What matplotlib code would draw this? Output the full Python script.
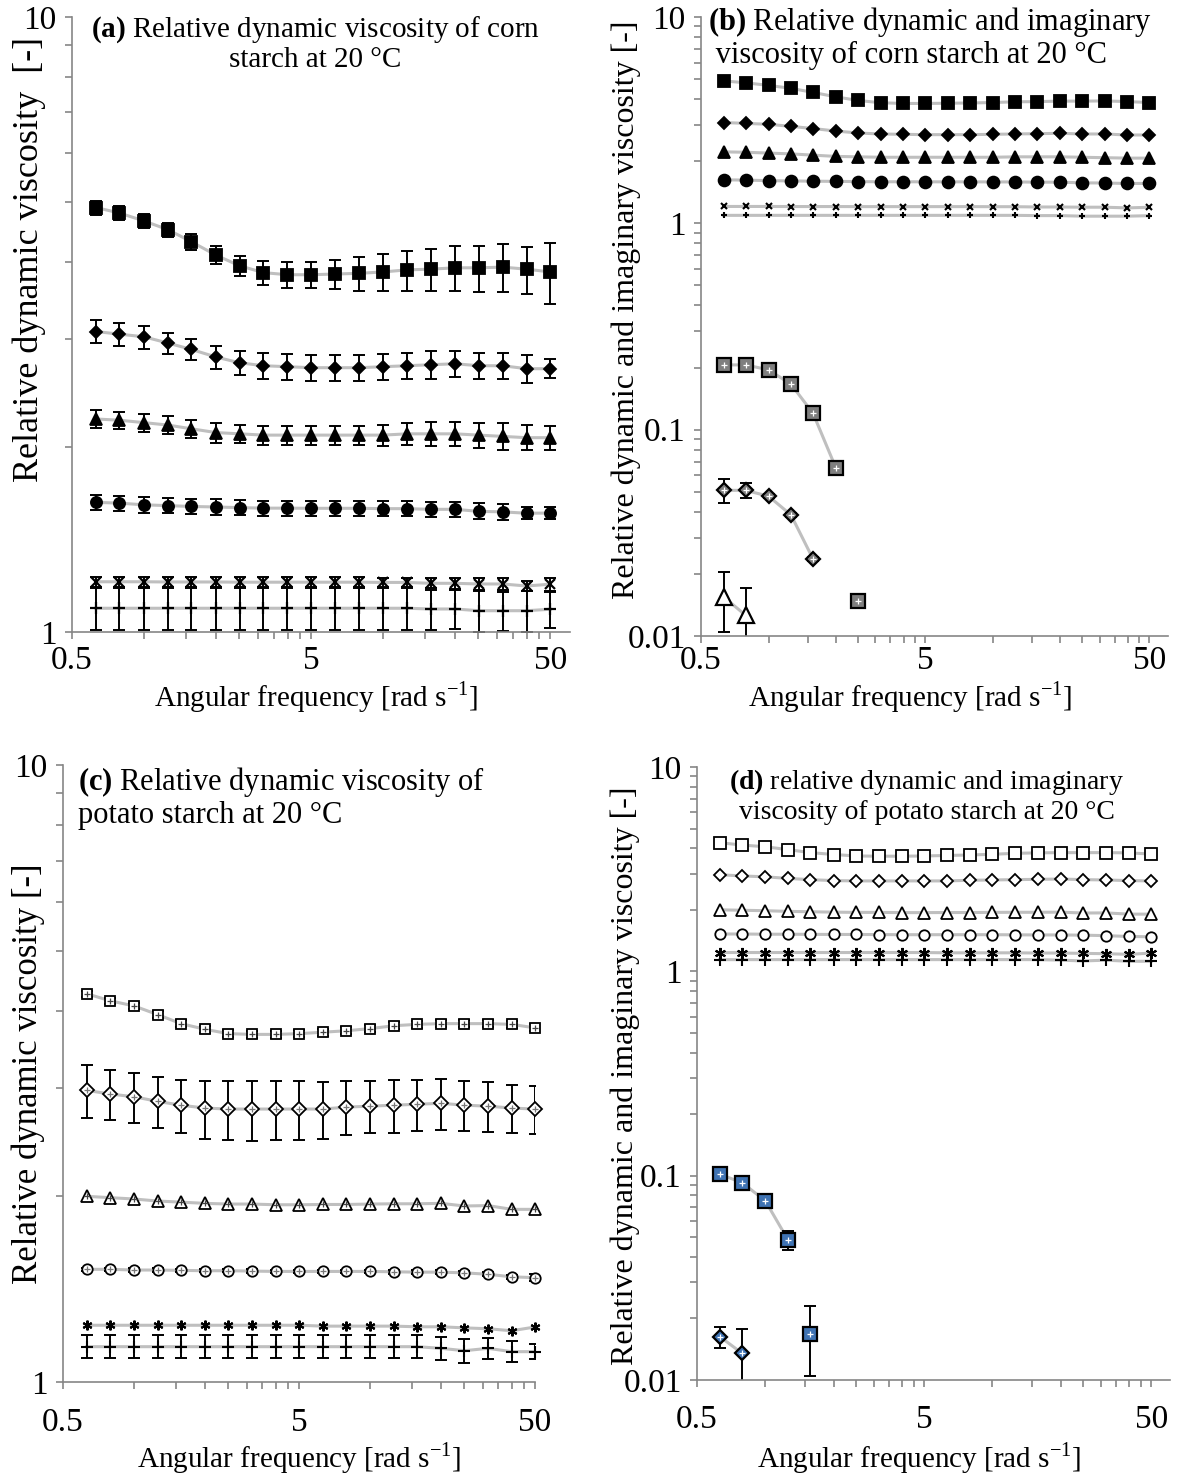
import matplotlib
matplotlib.use('Agg')
import matplotlib.pyplot as plt
from matplotlib.ticker import FixedLocator, LogLocator, NullFormatter, FuncFormatter

plt.rcParams['font.family'] = ['Liberation Serif', 'DejaVu Serif']
plt.rcParams['mathtext.fontset'] = 'custom'
plt.rcParams['mathtext.rm'] = 'Liberation Serif'
plt.rcParams['mathtext.bf'] = 'Liberation Serif:bold'
plt.rcParams['font.size'] = 20

GREY_LINE = '#bfbfbf'
AXIS_GREY = '#868686'

# angular frequency [rad/s], 10 points per decade
freq = [0.63, 0.79, 1.0, 1.26, 1.58, 2.0, 2.51, 3.16, 3.98, 5.01,
        6.31, 7.94, 10.0, 12.6, 15.8, 20.0, 25.1, 31.6, 39.8, 50.0]

# corn starch - relative dynamic viscosity (panels a and b)
corn_sq = [4.90, 4.80, 4.66, 4.51, 4.31, 4.10, 3.94, 3.84, 3.81, 3.81,
           3.82, 3.83, 3.85, 3.88, 3.89, 3.91, 3.91, 3.92, 3.89, 3.85]
corn_sq_err = [0.13, 0.13, 0.13, 0.12, 0.125, 0.135, 0.15, 0.17, 0.18, 0.19,
               0.21, 0.24, 0.26, 0.29, 0.31, 0.33, 0.34, 0.35, 0.34, 0.44]
corn_di = [3.08, 3.05, 3.02, 2.95, 2.88, 2.80, 2.74, 2.71, 2.70, 2.69,
           2.69, 2.69, 2.70, 2.71, 2.72, 2.73, 2.71, 2.71, 2.68, 2.68]
corn_di_err = [0.13, 0.13, 0.13, 0.115, 0.115, 0.12, 0.12, 0.13, 0.13, 0.13,
               0.13, 0.13, 0.135, 0.135, 0.14, 0.135, 0.135, 0.13, 0.14, 0.095]
corn_tr = [2.22, 2.21, 2.19, 2.17, 2.14, 2.11, 2.10, 2.09, 2.09, 2.09,
           2.09, 2.09, 2.09, 2.10, 2.10, 2.10, 2.09, 2.08, 2.07, 2.07]
corn_tr_err = [0.073, 0.073, 0.072, 0.072, 0.073, 0.078, 0.073, 0.075, 0.073, 0.076,
               0.076, 0.076, 0.08, 0.084, 0.092, 0.097, 0.098, 0.104, 0.097, 0.094]
corn_ci = [1.625, 1.62, 1.61, 1.605, 1.60, 1.597, 1.593, 1.59, 1.59, 1.589,
           1.589, 1.589, 1.587, 1.587, 1.583, 1.583, 1.571, 1.568, 1.56, 1.561]
corn_ci_err = [0.048, 0.047, 0.046, 0.045, 0.046, 0.047, 0.045, 0.044, 0.044, 0.044,
               0.044, 0.044, 0.044, 0.044, 0.044, 0.046, 0.047, 0.047, 0.034, 0.037]
corn_x = [1.207, 1.207, 1.207, 1.206, 1.206, 1.206, 1.205, 1.205, 1.205, 1.205,
          1.205, 1.205, 1.204, 1.204, 1.200, 1.200, 1.197, 1.197, 1.188, 1.196]
corn_x_err = [0.022, 0.022, 0.022, 0.022, 0.022, 0.022, 0.022, 0.022, 0.022, 0.022,
              0.022, 0.022, 0.022, 0.022, 0.023, 0.024, 0.025, 0.025, 0.024, 0.03]
corn_plus = [1.093, 1.093, 1.093, 1.093, 1.093, 1.093, 1.093, 1.093, 1.093, 1.093,
             1.093, 1.093, 1.093, 1.093, 1.090, 1.090, 1.083, 1.083, 1.083, 1.089]
corn_plus_err = [0.085, 0.085, 0.085, 0.085, 0.085, 0.085, 0.085, 0.085, 0.085, 0.085,
                 0.085, 0.085, 0.085, 0.085, 0.082, 0.08, 0.082, 0.08, 0.082, 0.073]

# corn starch - relative imaginary viscosity (panel b)
corn_im_sq = [0.206, 0.206, 0.195, 0.166, 0.120, 0.065, 0.0147]
corn_im_di = [0.0508, 0.0508, 0.0476, 0.0386, 0.0236]
corn_im_di_err = [0.0066, 0.0043, 0.001, 0.0008, 0.0005]
corn_im_tr = [0.0155, 0.0126]
corn_im_tr_err = [0.005, 0.0045]

# potato starch - relative dynamic viscosity (panels c and d)
pot_sq = [4.26, 4.15, 4.07, 3.94, 3.81, 3.73, 3.67, 3.66, 3.66, 3.67,
          3.69, 3.71, 3.74, 3.78, 3.80, 3.81, 3.81, 3.81, 3.80, 3.75]
pot_sq_err = [0.05, 0.05, 0.05, 0.05, 0.05, 0.05, 0.05, 0.05, 0.05, 0.05,
              0.05, 0.05, 0.05, 0.05, 0.05, 0.05, 0.05, 0.05, 0.05, 0.05]
pot_di = [2.97, 2.93, 2.90, 2.85, 2.81, 2.78, 2.77, 2.77, 2.77, 2.77,
          2.77, 2.79, 2.80, 2.81, 2.82, 2.83, 2.81, 2.80, 2.78, 2.77]
pot_di_err = [0.29, 0.27, 0.27, 0.27, 0.28, 0.30, 0.30, 0.31, 0.30, 0.30,
              0.29, 0.28, 0.27, 0.28, 0.27, 0.27, 0.26, 0.26, 0.25, 0.25]
pot_tr = [2.00, 1.99, 1.98, 1.965, 1.957, 1.948, 1.943, 1.943, 1.938, 1.938,
          1.94, 1.94, 1.943, 1.945, 1.945, 1.948, 1.929, 1.932, 1.905, 1.905]
pot_ci = [1.523, 1.523, 1.519, 1.519, 1.517, 1.515, 1.515, 1.513, 1.511, 1.511,
          1.511, 1.511, 1.511, 1.509, 1.507, 1.507, 1.503, 1.495, 1.481, 1.476]
pot_ci_err = [0.01, 0.01, 0.01, 0.01, 0.01, 0.01, 0.01, 0.01, 0.01, 0.01,
              0.01, 0.01, 0.01, 0.01, 0.01, 0.01, 0.012, 0.012, 0.012, 0.02]
pot_ast = [1.236, 1.236, 1.236, 1.236, 1.236, 1.236, 1.236, 1.236, 1.236, 1.236,
           1.232, 1.232, 1.232, 1.232, 1.229, 1.229, 1.224, 1.220, 1.211, 1.228]
pot_plus = [1.141, 1.141, 1.141, 1.141, 1.141, 1.141, 1.141, 1.141, 1.141, 1.141,
            1.141, 1.141, 1.141, 1.141, 1.141, 1.134, 1.124, 1.134, 1.120, 1.120]
pot_plus_err = [0.049, 0.049, 0.049, 0.049, 0.049, 0.049, 0.049, 0.049, 0.049, 0.049,
                0.049, 0.049, 0.049, 0.049, 0.049, 0.049, 0.05, 0.046, 0.044, 0.031]

# potato starch - relative imaginary viscosity (panel d)
pot_im_sq = [0.1016, 0.0924, 0.0752, 0.0483, 0.0167]
pot_im_sq_err = [0.002, 0.002, 0.002, 0.005, 0.0063]
pot_im_di = [0.0163, 0.0135]
pot_im_di_err = [0.0019, 0.0042]

ASTERISK = (6, 2, 0)


def style_axis(ax, ymin, xmax, xpad):
    ax.set_xscale('log')
    ax.set_yscale('log')
    ax.set_xlim(0.5, xmax)
    ax.set_ylim(ymin, 10)
    for s in ['top', 'right']:
        ax.spines[s].set_visible(False)
    for s in ['left', 'bottom']:
        ax.spines[s].set_color(AXIS_GREY)
        ax.spines[s].set_linewidth(1.2)
    ax.xaxis.set_major_locator(FixedLocator([0.5, 5, 50]))
    ax.xaxis.set_major_formatter(FuncFormatter(lambda v, p: '%g' % v))
    ax.xaxis.set_minor_locator(FixedLocator([0.5 * k * 10 ** d for d in (0, 1) for k in range(2, 10)]))
    ax.xaxis.set_minor_formatter(NullFormatter())
    ax.yaxis.set_major_locator(LogLocator(base=10))
    ax.yaxis.set_major_formatter(FuncFormatter(lambda v, p: '%g' % v))
    ax.yaxis.set_minor_locator(LogLocator(base=10, subs=range(2, 10)))
    ax.yaxis.set_minor_formatter(NullFormatter())
    ax.tick_params(which='both', direction='out', length=5, width=1.2, color=AXIS_GREY, labelsize=24)
    ax.tick_params(axis='x', which='both', pad=xpad)
    ax.tick_params(axis='y', which='both', pad=6)


def series(ax, y, marker, ms, face='black', err=None, inner=None, inner_ms=4,
           inner_color='white', n_line=None, mew=1.3):
    xs = freq[:len(y)]
    n = len(y) if n_line is None else n_line
    if n > 1:
        ax.plot(xs[:n], y[:n], color=GREY_LINE, lw=2.2, zorder=1)
    if err is not None:
        ax.errorbar(xs, y, yerr=err, fmt='none', ecolor='black', elinewidth=1.4,
                    capsize=4.5, capthick=1.4, zorder=2)
    ax.plot(xs, y, ls='none', marker=marker, ms=ms, mfc=face, mec='black', mew=mew,
            zorder=3, clip_on=False)
    if inner:
        ax.plot(xs, y, ls='none', marker=inner, ms=inner_ms, mec=inner_color, mew=0.9,
                zorder=4, clip_on=False)


fig = plt.figure(figsize=(11.78, 14.77), dpi=100)
ax_a = fig.add_axes([0.0611, 0.5721, 0.4228, 0.4164])
ax_b = fig.add_axes([0.5951, 0.5694, 0.3964, 0.4191])
ax_c = fig.add_axes([0.0535, 0.0643, 0.4007, 0.4177])
ax_d = fig.add_axes([0.5917, 0.0657, 0.4015, 0.4150])

style_axis(ax_a, 1, 60.5, 5)
style_axis(ax_b, 0.01, 60.5, 2)
style_axis(ax_c, 1, 50, 13)
style_axis(ax_d, 0.01, 60.5, 13)

# (a) corn starch, dynamic viscosity with error bars
series(ax_a, corn_sq, 's', 8.5, err=corn_sq_err)
series(ax_a, corn_di, 'D', 6.5, err=corn_di_err)
series(ax_a, corn_tr, '^', 8.5, err=corn_tr_err)
series(ax_a, corn_ci, 'o', 8, err=corn_ci_err)
series(ax_a, corn_x, 'x', 7, err=corn_x_err, mew=1.6)
series(ax_a, corn_plus, '+', 8, err=corn_plus_err, mew=1.6)

# (b) corn starch, dynamic + imaginary
series(ax_b, corn_sq, 's', 8.5)
series(ax_b, corn_di, 'D', 6.3)
series(ax_b, corn_tr, '^', 8.5)
series(ax_b, corn_ci, 'o', 8.5)
series(ax_b, corn_x, 'x', 5, mew=1.5)
series(ax_b, corn_plus, '+', 5, mew=1.5)
series(ax_b, corn_im_sq, 's', 9.5, face='#7f7f7f', inner='+', inner_ms=5, n_line=6, mew=1.6)
series(ax_b, corn_im_di, 'D', 7.5, face='#7f7f7f', err=corn_im_di_err, inner='+', inner_ms=5, mew=1.6)
series(ax_b, corn_im_tr, '^', 11, face='white', err=corn_im_tr_err, mew=1.6)

# (c) potato starch, dynamic viscosity
series(ax_c, pot_sq, 's', 7, face='white', err=pot_sq_err, inner='+', inner_ms=4, inner_color='#444444')
series(ax_c, pot_di, 'D', 7, face='white', err=pot_di_err, inner='+', inner_ms=5, inner_color='#777777')
series(ax_c, pot_tr, '^', 9, face='white', inner='+', inner_ms=5, inner_color='#444444')
series(ax_c, pot_ci, 'o', 7.5, face='white', err=pot_ci_err, inner='+', inner_ms=4, inner_color='#777777')
series(ax_c, pot_ast, ASTERISK, 7, mew=1.5)
series(ax_c, pot_plus, '+', 8, err=pot_plus_err, mew=1.5)

# (d) potato starch, dynamic + imaginary
series(ax_d, pot_sq, 's', 8.5, face='white')
series(ax_d, pot_di, 'D', 6.3, face='white')
series(ax_d, pot_tr, '^', 8.5, face='white')
series(ax_d, pot_ci, 'o', 7.5, face='white')
series(ax_d, pot_ast, ASTERISK, 8, mew=1.5)
series(ax_d, pot_plus, '+', 8, mew=1.5)
series(ax_d, pot_im_sq, 's', 9.5, face='#3f73b3', err=pot_im_sq_err, inner='+', inner_ms=4, n_line=4, mew=1.6)
series(ax_d, pot_im_di, 'D', 7, face='#3f73b3', err=pot_im_di_err, inner='+', inner_ms=4, mew=1.6)

# titles inside the plots
ax_a.text(0.488, 1.005, r'$\mathbf{(a)}$ Relative dynamic viscosity of corn' + '\nstarch at 20 \u00b0C',
          transform=ax_a.transAxes, ha='center', va='top', multialignment='center',
          fontsize=21, linespacing=1.1)
ax_b.text(0.49, 1.02, r'$\mathbf{(b)}$ Relative dynamic and imaginary' + '\n viscosity of corn starch at 20 \u00b0C',
          transform=ax_b.transAxes, ha='center', va='top', multialignment='left',
          fontsize=22, linespacing=1.1)
ax_c.text(0.032, 1.0, r'$\mathbf{(c)}$ Relative dynamic viscosity of' + '\npotato starch at 20 \u00b0C',
          transform=ax_c.transAxes, ha='left', va='top', multialignment='left',
          fontsize=22, linespacing=1.1)
ax_d.text(0.486, 1.0, r'$\mathbf{(d)}$ relative dynamic and imaginary' + '\nviscosity of potato starch at 20 \u00b0C',
          transform=ax_d.transAxes, ha='center', va='top', multialignment='center',
          fontsize=20, linespacing=1.15)

xlab = r'Angular frequency [rad s$^{\mathrm{-1}}$]'
for ax, ylab, yfs, ly, lx, xl, xly in [
        (ax_a, 'Relative dynamic viscosity  [-]', 26, 0.605, -0.086, 0.49, -0.106),
        (ax_b, 'Relative dynamic and imaginary viscosity [-]', 23, 0.527, -0.16, 0.448, -0.098),
        (ax_c, 'Relative dynamic viscosity [-]', 25, 0.5, -0.074, 0.50, -0.123),
        (ax_d, 'Relative dynamic and imaginary viscosity [-]', 23, 0.497, -0.152, 0.47, -0.127)]:
    ax.set_ylabel(ylab, fontsize=yfs)
    ax.yaxis.set_label_coords(lx, ly)
    ax.yaxis.label.set_va('center')
    ax.set_xlabel(xlab, fontsize=21)
    ax.xaxis.set_label_coords(xl, xly)
    ax.xaxis.label.set_va('center')

fig.savefig('out.png', dpi=100)
